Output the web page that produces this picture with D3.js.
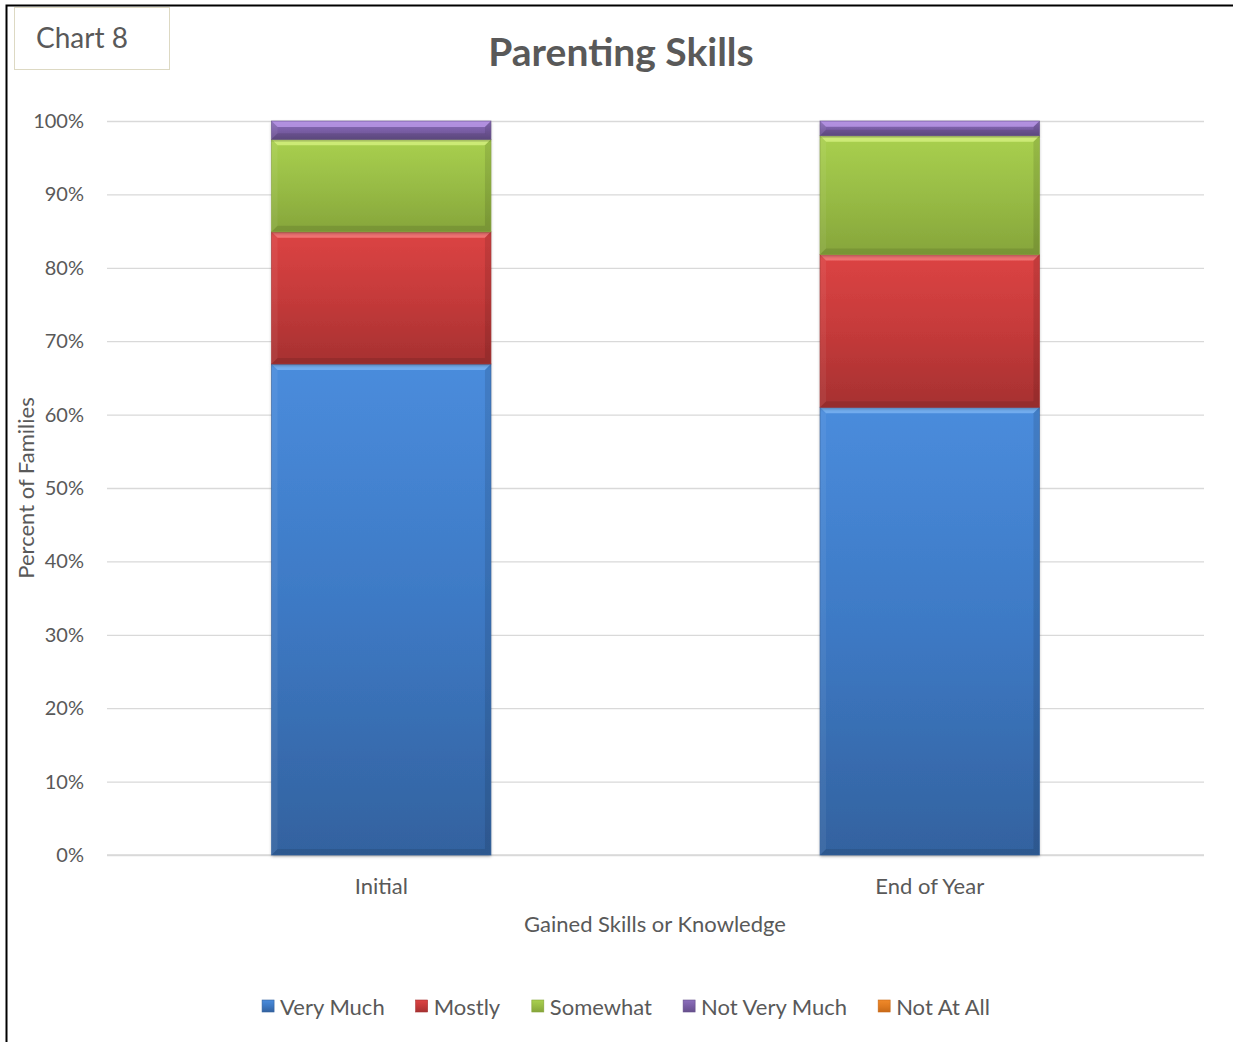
<!DOCTYPE html>
<html>
<head>
<meta charset="utf-8">
<script src="https://cdn.jsdelivr.net/npm/d3@7"></script>
<style>
  html, body { margin: 0; padding: 0; background: #ffffff; }
  svg { display: block; }
  text { font-family: Lato, "Noto Sans", sans-serif; fill: #595959; }
</style>
</head>
<body>
<svg id="chart" width="1233" height="1042"></svg>
<script>
// Survey responses, percent of families per category
const categories = ["Initial", "End of Year"];
const seriesNames = ["Very Much", "Mostly", "Somewhat", "Not Very Much", "Not At All"];
const veryMuch    = [66.9, 61.0];
const mostly      = [18.0, 20.8];
const somewhat    = [12.6, 16.2];
const notVeryMuch = [2.5, 2.0];
const notAtAll    = [0, 0];
const yTicks = [0, 10, 20, 30, 40, 50, 60, 70, 80, 90, 100];

// Fill colours: [light top, base, dark bottom]
const palette = [
  ["#4a8cdc", "#3d79c4", "#33629f"],
  ["#dc4444", "#c53a3a", "#a63131"],
  ["#a9d04f", "#98bc45", "#86a53b"],
  ["#8c6fbb", "#7a5ea6", "#67508c"],
  ["#f08a2a", "#e07b20", "#c86a18"]
];
const bevelLight = ["#79b3f2", "#f27a7a", "#d2ee7e", "#b996e6", "#ffb060"];

const rows = categories.map((c, i) => ({
  category: c,
  "Very Much": veryMuch[i],
  "Mostly": mostly[i],
  "Somewhat": somewhat[i],
  "Not Very Much": notVeryMuch[i],
  "Not At All": notAtAll[i]
}));
const stacked = d3.stack().keys(seriesNames)(rows);

const svg = d3.select("#chart");
const plot = { left: 107, right: 1204, top: 121, bottom: 855 };

const x = d3.scaleBand().domain(categories)
  .range([plot.left, plot.right]).paddingInner(0.6).paddingOuter(0.3);
const y = d3.scaleLinear().domain([0, 100]).range([plot.bottom, plot.top]);

// Gradients and shadow
const defs = svg.append("defs");
palette.forEach((p, i) => {
  const g = defs.append("linearGradient").attr("id", "grad" + i)
    .attr("x1", 0).attr("y1", 0).attr("x2", 0).attr("y2", 1);
  g.append("stop").attr("offset", "0%").attr("stop-color", p[0]);
  g.append("stop").attr("offset", "50%").attr("stop-color", p[1]);
  g.append("stop").attr("offset", "100%").attr("stop-color", p[2]);
});
const shadow = defs.append("filter").attr("id", "shadow")
  .attr("x", "-10%").attr("y", "-10%").attr("width", "120%").attr("height", "120%");
shadow.append("feDropShadow").attr("dx", 0).attr("dy", 1.5)
  .attr("stdDeviation", 1.5).attr("flood-color", "#000").attr("flood-opacity", 0.3);

// Outer frame
svg.append("path")
  .attr("d", "M6.5,1045 L6.5,5.5 L1240,5.5")
  .attr("fill", "none").attr("stroke", "#000").attr("stroke-width", 2);

// "Chart 8" label box
svg.append("rect").attr("x", 14.5).attr("y", 7.5).attr("width", 155).attr("height", 62)
  .attr("fill", "#fff").attr("stroke", "#ddd9c3").attr("stroke-width", 1);
svg.append("text").attr("x", 36).attr("y", 48).attr("font-size", 28).text("Chart 8");

// Title
svg.append("text").attr("x", 621).attr("y", 66).attr("text-anchor", "middle")
  .attr("font-size", 39).attr("font-weight", "bold").text("Parenting Skills");

// Gridlines and y tick labels
const yAxis = d3.axisLeft(y).tickValues(yTicks).tickFormat(d => d + "%")
  .tickSize(-(plot.right - plot.left)).tickPadding(23);
const gy = svg.append("g").attr("transform", `translate(${plot.left},0)`).call(yAxis);
gy.select(".domain").remove();
gy.selectAll(".tick line").attr("stroke", "#d9d9d9").attr("stroke-width", 1.3);
gy.selectAll(".tick text").attr("font-size", 20).attr("fill", "#595959")
  .attr("font-family", "Lato, 'Noto Sans', sans-serif");

// Category axis
const xAxis = d3.axisBottom(x).tickSize(0).tickPadding(23);
const gx = svg.append("g").attr("transform", `translate(0,${plot.bottom})`).call(xAxis);
gx.select(".domain").attr("stroke", "#d9d9d9").attr("stroke-width", 1.5)
  .attr("d", `M${plot.left},0H${plot.right}`);
gx.selectAll(".tick text").attr("font-size", 22).attr("fill", "#595959")
  .attr("font-family", "Lato, 'Noto Sans', sans-serif");

// Stacked bars with bevelled edges
const bev = 6;
const layers = svg.append("g").selectAll("g").data(stacked).join("g");
layers.each(function(layer, si) {
  const g = d3.select(this);
  layer.forEach((d, ci) => {
    const x0 = x(categories[ci]), w = x.bandwidth();
    const y0 = y(d[1]), y1 = y(d[0]), h = y1 - y0;
    if (h <= 0) return;
    const b = Math.min(bev, h / 2.5);
    g.append("rect").attr("x", x0).attr("y", y0).attr("width", w).attr("height", h)
      .attr("fill", `url(#grad${si})`).attr("filter", "url(#shadow)");
    // top bevel highlight
    g.append("path")
      .attr("d", `M${x0},${y0}H${x0 + w}L${x0 + w - b},${y0 + b}H${x0 + b}Z`)
      .attr("fill", bevelLight[si]).attr("opacity", 0.85);
    // bottom bevel shade
    g.append("path")
      .attr("d", `M${x0},${y1}H${x0 + w}L${x0 + w - b},${y1 - b}H${x0 + b}Z`)
      .attr("fill", "#000").attr("opacity", 0.1);
    // side bevels
    g.append("path")
      .attr("d", `M${x0},${y0}L${x0 + b},${y0 + b}V${y1 - b}L${x0},${y1}Z`)
      .attr("fill", "#fff").attr("opacity", 0.06);
    g.append("path")
      .attr("d", `M${x0 + w},${y0}L${x0 + w - b},${y0 + b}V${y1 - b}L${x0 + w},${y1}Z`)
      .attr("fill", "#000").attr("opacity", 0.1);
    g.append("rect").attr("x", x0).attr("y", y0).attr("width", w).attr("height", h)
      .attr("fill", "none").attr("stroke", palette[si][2]).attr("stroke-width", 0.8)
      .attr("stroke-opacity", 0.8);
  });
});

// Axis titles
svg.append("text").attr("transform", "translate(34,488) rotate(-90)")
  .attr("text-anchor", "middle").attr("font-size", 22).text("Percent of Families");
svg.append("text").attr("x", 655).attr("y", 932).attr("text-anchor", "middle")
  .attr("font-size", 22).text("Gained Skills or Knowledge");

// Legend
const legend = svg.append("g").attr("transform", "translate(0,1007)");
const items = legend.selectAll("g").data(seriesNames).join("g");
items.append("rect").attr("width", 12).attr("height", 12).attr("y", -7)
  .attr("fill", (d, i) => `url(#grad${i})`)
  .attr("stroke", (d, i) => palette[i][2]).attr("stroke-width", 0.6);
items.append("text").attr("x", 18).attr("y", 0).attr("dy", "0.35em")
  .attr("font-size", 22).text(d => d);
const widths = [];
items.each(function() { widths.push(this.getBBox().width); });
const gap = 31;
const total = d3.sum(widths) + gap * (widths.length - 1);
let start = 626 - total / 2;
items.attr("transform", (d, i) => {
  const t = `translate(${start},0)`;
  start += widths[i] + gap;
  return t;
});
</script>
</body>
</html>
